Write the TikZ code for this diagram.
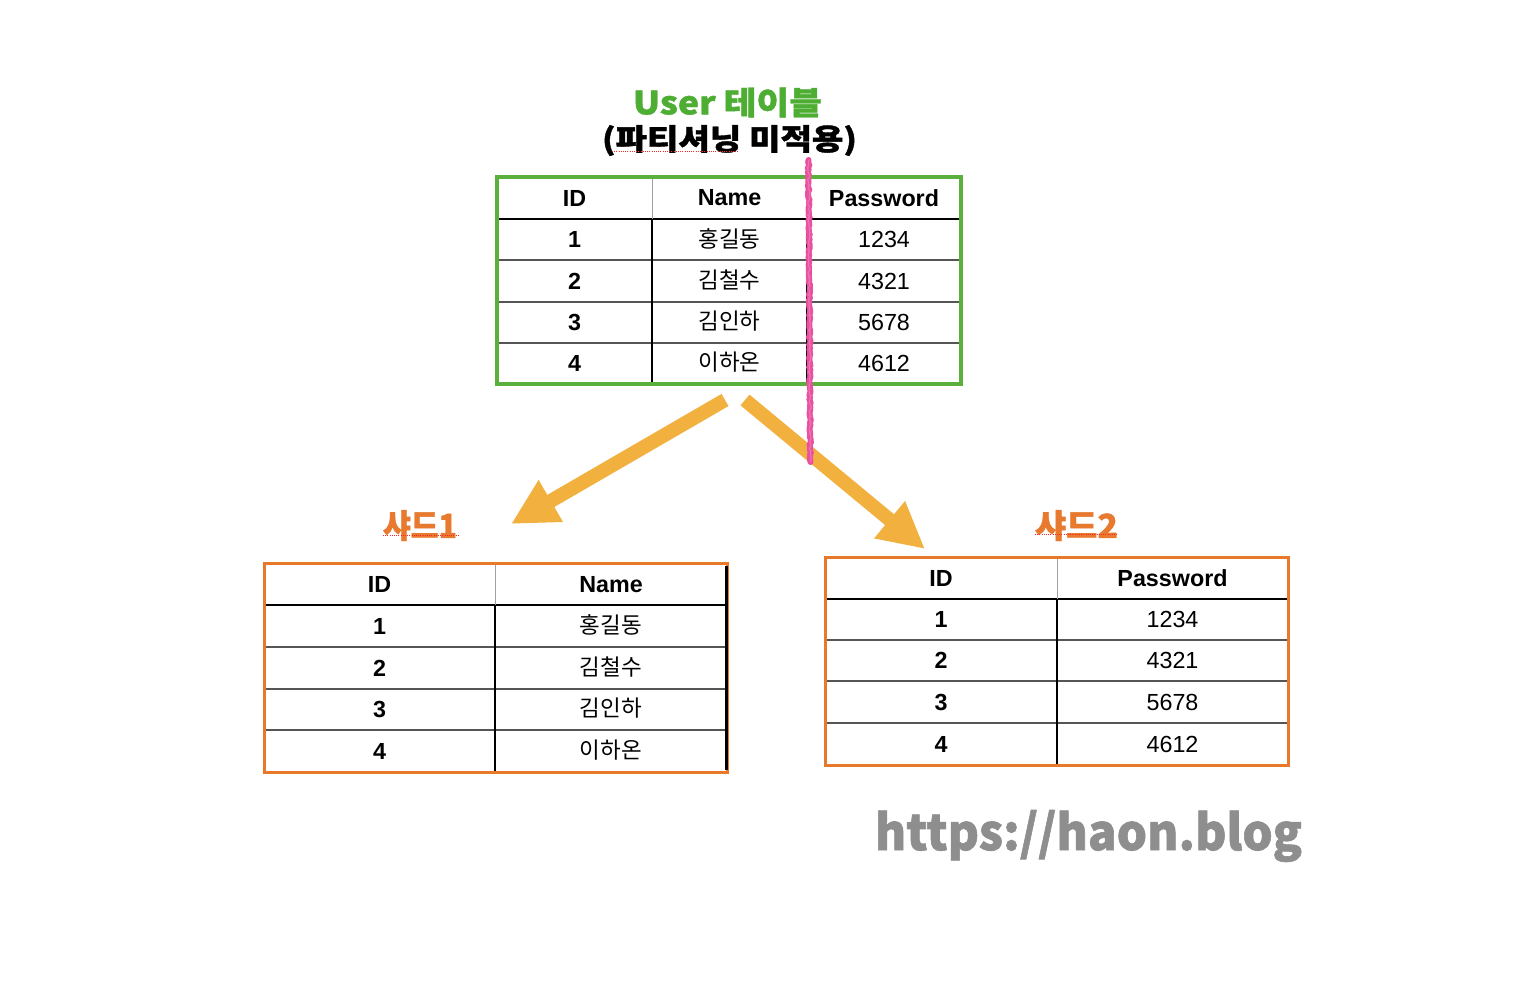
\documentclass[tikz,border=0pt]{standalone}
\usepackage{fontspec}
\setmainfont{Liberation Sans}
\newfontfamily\kr{Noto Sans CJK KR}
\newfontfamily\krh{Noto Sans CJK KR}[BoldFeatures={FakeBold=1.2}]
\usetikzlibrary{arrows.meta,decorations.pathmorphing}
\definecolor{tgreen}{HTML}{4DAE33}
\definecolor{bgreen}{HTML}{5BAF3C}
\definecolor{borange}{HTML}{E8792B}
\definecolor{torange}{HTML}{E87A2F}
\definecolor{arrowc}{HTML}{F2B13F}
\definecolor{crayon}{HTML}{E9509F}
\definecolor{wmgray}{HTML}{8E8E8E}
\definecolor{rowline}{HTML}{555555}
\definecolor{headsep}{HTML}{A0A0A0}
\tikzset{
  hd/.style={font=\fontsize{23.3}{28}\selectfont\bfseries, inner sep=0},
  numc/.style={font=\fontsize{23.3}{28}\selectfont, inner sep=0},
  krc/.style={font=\kr\fontsize{22.5}{27}\selectfont, inner sep=0},
  rowsep/.style={draw=rowline, line width=1.3},
  headline/.style={draw=black, line width=2.5},
  colline/.style={draw=black, line width=2},
  headcol/.style={draw=headsep, line width=1},
  bigarrow/.style={draw=arrowc, line width=14, -{Triangle[length=46pt,width=45pt]}},
  label/.style={inner sep=0},
  spell/.style={draw=red!85, line width=0.8, dash pattern=on 1pt off 1.2pt}
}
\begin{document}
\begin{tikzpicture}[x=1pt,y=-1pt]
\useasboundingbox[fill=white] (0,0) rectangle (1538,980);

% ---------- titles ----------
\node[label, text=tgreen] (title1) at (727.5,102.5) {\resizebox*{189pt}{30pt}{\krh\bfseries User 테이블}};
\node[label, text=black] (title2) at (729.5,140.5) {\resizebox*{255pt}{31pt}{\krh\bfseries (파티셔닝 미적용)}};
\draw[spell] (612,151) -- (739,151);

% ---------- top table ----------
\foreach \y in {260,302,343} \draw[rowsep] (497,\y) -- (961,\y);
\draw[headline] (497,219) -- (961,219);
\foreach \x in {652,807} {
  \draw[headcol] (\x,177) -- (\x,219);
  \draw[colline] (\x,219) -- (\x,384);
}
\draw[draw=bgreen, line width=3.5] (497,177) rectangle (961,384);
\node[hd] (T-h-id) at (574.5,198) {ID};
\node[hd] (T-h-name) at (729.5,198) {Name};
\node[hd] (T-h-pw) at (884,198) {Password};

% ---------- lower-left table ----------
\foreach \y in {647,689,730} \draw[rowsep] (264,\y) -- (727,\y);
\draw[headline] (264,605) -- (727,605);
\draw[headcol] (495,563) -- (495,605);
\draw[colline] (495,605) -- (495,772);
\draw[draw=borange, line width=3] (264,563.5) rectangle (727,772);
\draw[draw=black, line width=3] (726.5,566) -- (726.5,770);
\node[hd] (L-h-id) at (379.5,584.5) {ID};
\node[hd] (L-h-name) at (611,584.5) {Name};

% ---------- lower-right table ----------
\foreach \y in {640,681,723} \draw[rowsep] (825,\y) -- (1288,\y);
\draw[headline] (825,599) -- (1288,599);
\draw[headcol] (1057,557) -- (1057,599);
\draw[colline] (1057,599) -- (1057,765);
\draw[draw=borange, line width=3] (825,557) rectangle (1288,765);
\node[hd] (R-h-id) at (941,578) {ID};
\node[hd] (R-h-pw) at (1172.5,578) {Password};

% ---------- rows ----------
\foreach \i/\n/\p/\yt/\yl/\yr in {1/홍길동/1234/239.5/626/619.5,
                                  2/김철수/4321/281/668/660.5,
                                  3/김인하/5678/322.5/709.5/702,
                                  4/이하온/4612/363.5/751/744} {
  \node[hd]   (T-id-\i)   at (574.5,\yt) {\i};
  \node[krc]  (T-name-\i) at (729.5,\yt-1) {\n};
  \node[numc] (T-pw-\i)   at (884,\yt)   {\p};
  \node[hd]   (L-id-\i)   at (379.5,\yl) {\i};
  \node[krc]  (L-name-\i) at (611,\yl-1)   {\n};
  \node[hd]   (R-id-\i)   at (941,\yr)   {\i};
  \node[numc] (R-pw-\i)   at (1172.5,\yr) {\p};
}

% ---------- shard labels ----------
\node[label, text=torange] (shard1) at (420,525.5) {\resizebox*{74pt}{31pt}{\krh\bfseries 샤드1}};
\node[label, text=torange] (shard2) at (1076.5,525.5) {\resizebox*{83pt}{31pt}{\krh\bfseries 샤드2}};
\draw[spell] (383,535) -- (458,535);
\draw[spell] (1035,534) -- (1118,534);

% ---------- arrows ----------
\coordinate (a1s) at (725,400);
\coordinate (a1e) at (511,524);
\coordinate (a2s) at (745,400);
\coordinate (a2e) at (925,549);
\draw[bigarrow] (a1s) -- (a1e);
\draw[bigarrow] (a2s) -- (a2e);

% ---------- crayon split line ----------
\coordinate (cut1) at (808.5,160);
\coordinate (cut2) at (810.5,462);
\draw[crayon, line width=6, line cap=round,
      decorate, decoration={random steps, segment length=2.5, amplitude=0.7}] (cut1) -- (cut2);
\draw[crayon!60!white, line width=1.2, opacity=0.5,
      decorate, decoration={random steps, segment length=2, amplitude=1.2}] (cut1) -- (cut2);

% ---------- watermark ----------
\node[label, text=wmgray] (wm) at (1088.5,836) {\resizebox*{427pt}{52pt}{\krh\bfseries https://haon.blog}};
\end{tikzpicture}
\end{document}
